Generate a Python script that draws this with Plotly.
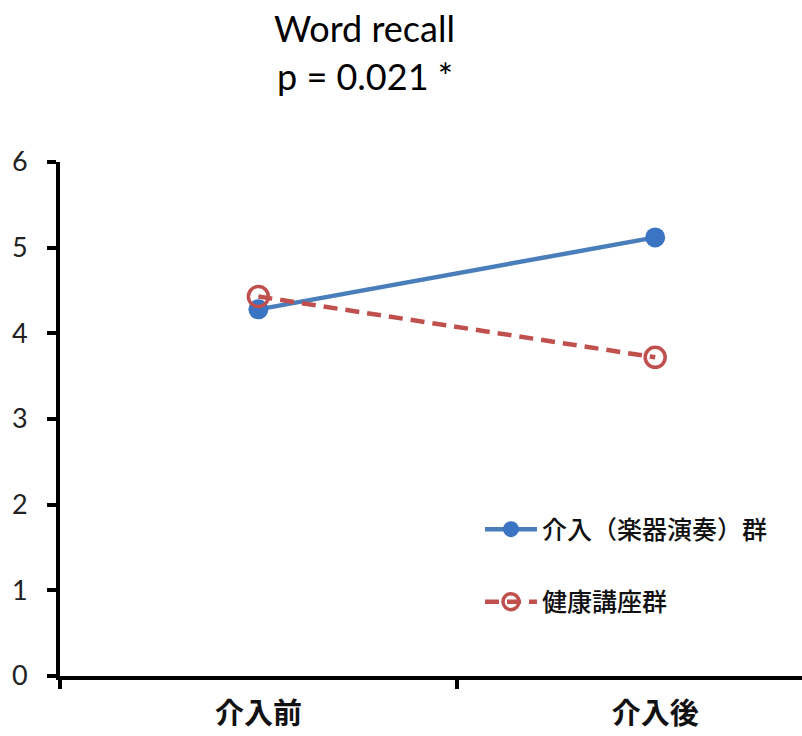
import plotly.graph_objects as go

categories = ["介入前", "介入後"]
group_names = ["介入（楽器演奏）群", "健康講座群"]
music_values = [4.28, 5.12]
lecture_values = [4.43, 3.72]
y_ticks = [0, 1, 2, 3, 4, 5, 6]
title_lines = ["Word recall", "p = 0.021 *"]

fig = go.Figure()
fig.add_trace(go.Scatter(
    x=categories, y=music_values, name=group_names[0], mode="lines+markers",
    line=dict(color="#4A7EBB", width=4.5),
    marker=dict(color="#3A74C2", size=20, symbol="circle"),
    legendgroup="a",
))
fig.add_trace(go.Scatter(
    x=categories, y=lecture_values, name=group_names[1], mode="lines+markers",
    line=dict(color="#C0504D", width=4.5, dash="14px,8px"),
    marker=dict(color="#C0504D", size=20, symbol="circle-open", line=dict(width=3.5)),
    legendgroup="b",
))

fig.update_layout(
    width=802, height=736,
    margin=dict(l=60, r=0, t=162, b=60),
    paper_bgcolor="white", plot_bgcolor="white",
    font=dict(family="Lato, 'Noto Sans CJK JP'", color="#111"),
    showlegend=True,
    legend=dict(
        x=0.566, y=0.33, xanchor="left", yanchor="top",
        font=dict(size=25, family="'Noto Sans CJK JP'", color="#111", weight=500),
        tracegroupgap=37, itemwidth=52, bgcolor="rgba(0,0,0,0)",
    ),
    xaxis=dict(
        type="category", range=[-0.5, 1.37], tickson="boundaries",
        showline=True, linecolor="black", linewidth=4,
        ticks="outside", ticklen=9, tickwidth=4, tickcolor="black",
        showgrid=False, zeroline=False, ticklabelstandoff=9, automargin=False,
        tickfont=dict(size=29, family="'Noto Sans CJK JP'", color="#111", weight="bold"),
    ),
    yaxis=dict(
        range=[0, 6], tickvals=y_ticks,
        showline=True, linecolor="black", linewidth=4,
        ticks="outside", ticklen=9, tickwidth=4, tickcolor="black",
        showgrid=False, zeroline=False, ticklabelstandoff=14, automargin=False,
        tickfont=dict(size=27, family="Lato", color="#222"),
    ),
    annotations=[
        dict(text=title_lines[0], xref="paper", yref="paper", x=0.411, y=1.261,
             xanchor="center", yanchor="middle", showarrow=False,
             font=dict(size=36, family="Lato", color="black")),
        dict(text=title_lines[1], xref="paper", yref="paper", x=0.411, y=1.167,
             xanchor="center", yanchor="middle", showarrow=False,
             font=dict(size=36, family="Lato", color="black")),
    ],
)

fig.write_html("out.html", config={"displayModeBar": False},
               post_script="document.body.style.margin='0';")
